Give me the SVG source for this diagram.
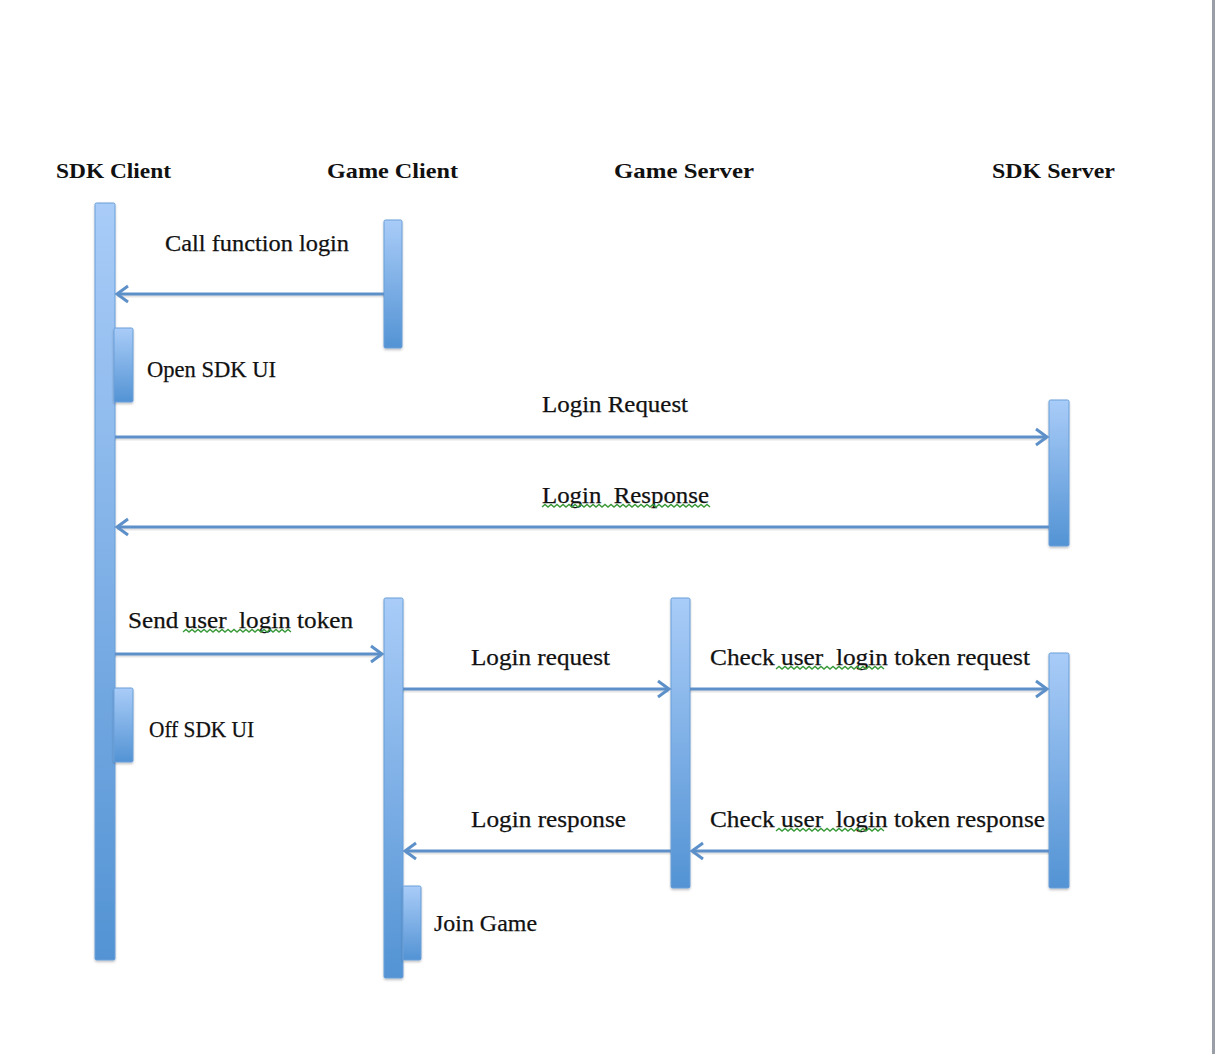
<svg xmlns="http://www.w3.org/2000/svg" width="1215" height="1054" viewBox="0 0 1215 1054">
<style>
.hdr{font-family:"Liberation Serif","DejaVu Serif",serif;font-weight:bold;font-size:21.5px;fill:#111}
.lbl{font-family:"Liberation Serif","DejaVu Serif",serif;font-size:24px;fill:#111;stroke:#111;stroke-width:0.25}
.bar{fill:url(#bg);stroke:#6b9fd9;stroke-width:1;filter:url(#sh)}
.msg{stroke:#5d90c9;stroke-width:3;fill:none;marker-end:url(#ah)}
.shd{stroke:#000;stroke-opacity:0.1;stroke-width:3;fill:none}
.sq{stroke:#3a9a3a;stroke-width:1.4;fill:none}
</style>
<defs>
<linearGradient id="bg" x1="0" y1="0" x2="0" y2="1">
<stop offset="0" stop-color="#a9ccf8"/>
<stop offset="1" stop-color="#5393d4"/>
</linearGradient>
<filter id="sh" x="-20%" y="-5%" width="140%" height="110%">
<feDropShadow dx="0" dy="1.5" stdDeviation="1.2" flood-color="#000" flood-opacity="0.25"/>
</filter>
<marker id="ah" markerUnits="userSpaceOnUse" markerWidth="20" markerHeight="20" refX="15" refY="10" orient="auto">
<polyline points="4,2 15,10 4,18" fill="none" stroke="#5d90c9" stroke-width="3"/>
</marker>
</defs>
<rect x="0" y="0" width="1215" height="1054" fill="#fff"/>
<rect x="1212" y="0" width="3" height="1054" fill="#9a9ea6"/>

<g id="headers">
<text class="hdr" x="56" y="178" textLength="115" lengthAdjust="spacingAndGlyphs">SDK Client</text>
<text class="hdr" x="327" y="178" textLength="131" lengthAdjust="spacingAndGlyphs">Game Client</text>
<text class="hdr" x="614" y="178" textLength="140" lengthAdjust="spacingAndGlyphs">Game Server</text>
<text class="hdr" x="992" y="178" textLength="123" lengthAdjust="spacingAndGlyphs">SDK Server</text>
</g>

<g id="sdk-client"><rect class="bar" x="95" y="203" width="20" height="757" rx="1.5"/></g>
<g id="game-client-1"><rect class="bar" x="384" y="220" width="18" height="128" rx="1.5"/></g>
<g id="open-sdk-ui"><rect class="bar" x="114" y="328" width="19" height="74" rx="1.5"/>
<text class="lbl" x="147" y="377" textLength="129" lengthAdjust="spacingAndGlyphs">Open SDK UI</text></g>
<g id="sdk-server-1"><rect class="bar" x="1049" y="400" width="20" height="146" rx="1.5"/></g>
<g id="game-client-2"><rect class="bar" x="384" y="598" width="19" height="380" rx="1.5"/></g>
<g id="game-server"><rect class="bar" x="671" y="598" width="19" height="290" rx="1.5"/></g>
<g id="sdk-server-2"><rect class="bar" x="1049" y="653" width="20" height="235" rx="1.5"/></g>
<g id="off-sdk-ui"><rect class="bar" x="114" y="688" width="19" height="74" rx="1.5"/>
<text class="lbl" x="149" y="737" textLength="105" lengthAdjust="spacingAndGlyphs">Off SDK UI</text></g>
<g id="join-game"><rect class="bar" x="403" y="886" width="18" height="74" rx="1.5"/>
<text class="lbl" x="434" y="931" textLength="103" lengthAdjust="spacingAndGlyphs">Join Game</text></g>

<g id="connectors">
<g id="shadows">
<line class="shd" x1="384" y1="296" x2="117" y2="296"/>
<line class="shd" x1="115" y1="439" x2="1047" y2="439"/>
<line class="shd" x1="1049" y1="529" x2="117" y2="529"/>
<line class="shd" x1="115" y1="656" x2="382" y2="656"/>
<line class="shd" x1="403" y1="691" x2="669" y2="691"/>
<line class="shd" x1="690" y1="691" x2="1047" y2="691"/>
<line class="shd" x1="671" y1="853" x2="405" y2="853"/>
<line class="shd" x1="1049" y1="853" x2="692" y2="853"/>
</g>
<line class="msg" x1="384" y1="294" x2="117" y2="294"/>
<line class="msg" x1="115" y1="437" x2="1047" y2="437"/>
<line class="msg" x1="1049" y1="527" x2="117" y2="527"/>
<line class="msg" x1="115" y1="654" x2="382" y2="654"/>
<line class="msg" x1="403" y1="689" x2="669" y2="689"/>
<line class="msg" x1="690" y1="689" x2="1047" y2="689"/>
<line class="msg" x1="671" y1="851" x2="405" y2="851"/>
<line class="msg" x1="1049" y1="851" x2="692" y2="851"/>
</g>

<g id="labels">
<text class="lbl" x="165" y="251" textLength="184" lengthAdjust="spacingAndGlyphs">Call function login</text>
<text class="lbl" x="542" y="412" textLength="146" lengthAdjust="spacingAndGlyphs">Login Request</text>
<text class="lbl" x="542" y="503" textLength="167" lengthAdjust="spacingAndGlyphs" xml:space="preserve">Login  Response</text>
<text class="lbl" x="128" y="628" textLength="225" lengthAdjust="spacingAndGlyphs" xml:space="preserve">Send user  login token</text>
<text class="lbl" x="471" y="665" textLength="139" lengthAdjust="spacingAndGlyphs">Login request</text>
<text class="lbl" x="710" y="665" textLength="320" lengthAdjust="spacingAndGlyphs" xml:space="preserve">Check user  login token request</text>
<text class="lbl" x="471" y="827" textLength="155" lengthAdjust="spacingAndGlyphs">Login response</text>
<text class="lbl" x="710" y="827" textLength="335" lengthAdjust="spacingAndGlyphs" xml:space="preserve">Check user  login token response</text>
</g>

<g id="spellcheck">
<path class="sq" d="M542,507 l3,-2.5 l3,2.5 l3,-2.5 l3,2.5 l3,-2.5 l3,2.5 l3,-2.5 l3,2.5 l3,-2.5 l3,2.5 l3,-2.5 l3,2.5 l3,-2.5 l3,2.5 l3,-2.5 l3,2.5 l3,-2.5 l3,2.5 l3,-2.5 l3,2.5 l3,-2.5 l3,2.5 l3,-2.5 l3,2.5 l3,-2.5 l3,2.5 l3,-2.5 l3,2.5 l3,-2.5 l3,2.5 l3,-2.5 l3,2.5 l3,-2.5 l3,2.5 l3,-2.5 l3,2.5 l3,-2.5 l3,2.5 l3,-2.5 l3,2.5 l3,-2.5 l3,2.5 l3,-2.5 l3,2.5 l3,-2.5 l3,2.5 l3,-2.5 l3,2.5 l3,-2.5 l3,2.5 l3,-2.5 l3,2.5 l3,-2.5 l3,2.5 l3,-2.5 l3,2.5"/>
<path class="sq" d="M183,632 l3,-2.5 l3,2.5 l3,-2.5 l3,2.5 l3,-2.5 l3,2.5 l3,-2.5 l3,2.5 l3,-2.5 l3,2.5 l3,-2.5 l3,2.5 l3,-2.5 l3,2.5 l3,-2.5 l3,2.5 l3,-2.5 l3,2.5 l3,-2.5 l3,2.5 l3,-2.5 l3,2.5 l3,-2.5 l3,2.5 l3,-2.5 l3,2.5 l3,-2.5 l3,2.5 l3,-2.5 l3,2.5 l3,-2.5 l3,2.5 l3,-2.5 l3,2.5 l3,-2.5 l3,2.5"/>
<path class="sq" d="M776,669 l3,-2.5 l3,2.5 l3,-2.5 l3,2.5 l3,-2.5 l3,2.5 l3,-2.5 l3,2.5 l3,-2.5 l3,2.5 l3,-2.5 l3,2.5 l3,-2.5 l3,2.5 l3,-2.5 l3,2.5 l3,-2.5 l3,2.5 l3,-2.5 l3,2.5 l3,-2.5 l3,2.5 l3,-2.5 l3,2.5 l3,-2.5 l3,2.5 l3,-2.5 l3,2.5 l3,-2.5 l3,2.5 l3,-2.5 l3,2.5 l3,-2.5 l3,2.5 l3,-2.5 l3,2.5"/>
<path class="sq" d="M776,831 l3,-2.5 l3,2.5 l3,-2.5 l3,2.5 l3,-2.5 l3,2.5 l3,-2.5 l3,2.5 l3,-2.5 l3,2.5 l3,-2.5 l3,2.5 l3,-2.5 l3,2.5 l3,-2.5 l3,2.5 l3,-2.5 l3,2.5 l3,-2.5 l3,2.5 l3,-2.5 l3,2.5 l3,-2.5 l3,2.5 l3,-2.5 l3,2.5 l3,-2.5 l3,2.5 l3,-2.5 l3,2.5 l3,-2.5 l3,2.5 l3,-2.5 l3,2.5 l3,-2.5 l3,2.5"/>
</g>
</svg>
